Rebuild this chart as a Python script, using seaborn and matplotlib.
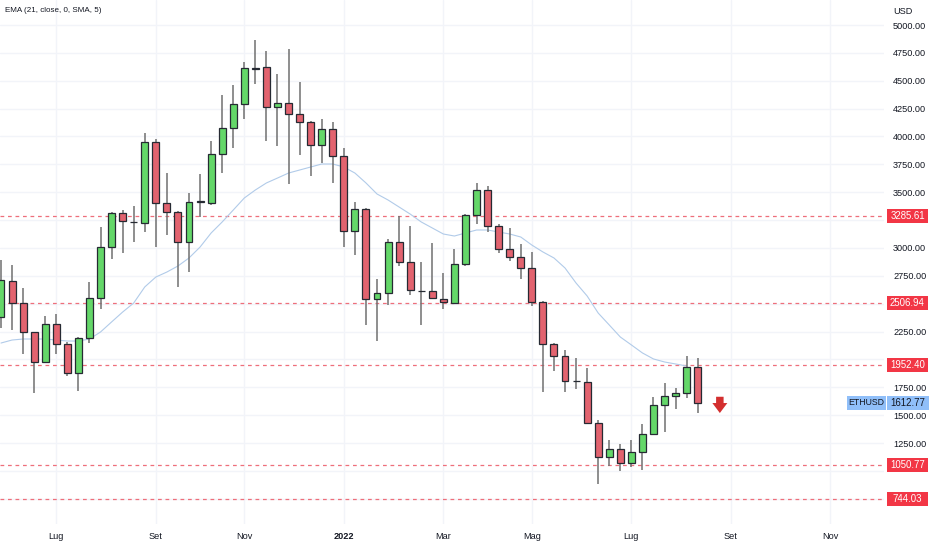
import numpy as np
import pandas as pd
import matplotlib
matplotlib.use("Agg")
import matplotlib.pyplot as plt
import matplotlib.dates as mdates
import matplotlib.transforms as mtrans
from matplotlib.patches import Rectangle
import seaborn as sns

# ---------------- data (weekly ETHUSD candles) ----------------
start_week = "2021-05-31"
n_weeks = 64
opens = [2380, 2703, 2506, 2246, 1977, 2318, 2138, 1878, 2192, 2551, 3008, 3313, 3233, 3224, 3950, 3403,
         3322, 3053, 3412, 3403, 3843, 4076, 4291, 4614, 4623, 4264, 4300, 4202, 4130, 3923, 4067, 3825,
         3152, 3349, 2542, 2596, 3053, 2874, 2614, 2614, 2542, 2506, 2856, 3296, 3520, 3197, 2990, 2919,
         2820, 2515, 2138, 2031, 1807, 1798, 1430, 1124, 1196, 1071, 1169, 1331, 1591, 1672, 1699, 1932]
highs = [2892, 2847, 2641, 2250, 2389, 2407, 2156, 2201, 2694, 3188, 3322, 3340, 3376, 4031, 3977, 3672,
         3331, 3493, 3663, 3959, 4372, 4462, 4668, 4865, 4767, 4560, 4785, 4489, 4139, 4157, 4130, 3897,
         3412, 3358, 2721, 3080, 3286, 3197, 2874, 3044, 2775, 2990, 3304, 3583, 3556, 3215, 3179, 3035,
         2964, 2524, 2147, 2084, 2013, 1923, 1457, 1277, 1241, 1277, 1421, 1663, 1789, 1744, 2031, 2013]
lows = [2282, 2264, 2049, 1699, 1968, 2049, 1851, 1717, 2147, 2452, 2901, 2955, 3053, 3143, 3008, 3116,
        2650, 2784, 3278, 3385, 3672, 3897, 4157, 4471, 3959, 3914, 3574, 3834, 3645, 3762, 3583, 3008,
        2937, 2309, 2165, 2488, 2838, 2578, 2309, 2542, 2452, 2500, 2838, 3215, 3143, 2955, 2883, 2721,
        2479, 1708, 1896, 1708, 1735, 1425, 882, 1044, 999, 1035, 1008, 1325, 1349, 1555, 1654, 1519]
closes = [2712, 2506, 2246, 1977, 2318, 2138, 1878, 2192, 2551, 3008, 3313, 3242, 3229, 3950, 3403, 3322,
          3053, 3412, 3416, 3843, 4076, 4291, 4614, 4609, 4264, 4300, 4202, 4130, 3923, 4067, 3825, 3152,
          3349, 2542, 2596, 3053, 2874, 2623, 2610, 2551, 2515, 2856, 3296, 3520, 3197, 2990, 2919, 2820,
          2515, 2138, 2031, 1807, 1804, 1430, 1124, 1196, 1071, 1169, 1331, 1591, 1672, 1699, 1932, 1612.77]
ema = [2147, 2174, 2183, 2183, 2183, 2174, 2165, 2165, 2183, 2246, 2336, 2425, 2506, 2650, 2739, 2784,
       2838, 2910, 3008, 3134, 3233, 3340, 3448, 3520, 3583, 3627, 3672, 3699, 3726, 3753, 3753, 3726,
       3672, 3583, 3484, 3430, 3367, 3304, 3233, 3179, 3125, 3107, 3134, 3161, 3161, 3143, 3125, 3098,
       3026, 2964, 2910, 2820, 2685, 2569, 2416, 2309, 2201, 2130, 2058, 2004, 1977, 1959, 1941, np.nan]

levels = [3285.61, 2506.94, 1952.40, 1050.77, 744.03]
last_price = 1612.77
symbol = "ETHUSD"
indicator_label = "EMA (21, close, 0, SMA, 5)"
currency = "USD"

tick_dates = ["2021-07-05", "2021-09-06", "2021-11-01", "2022-01-03", "2022-03-07",
              "2022-05-02", "2022-07-04", "2022-09-05", "2022-11-07"]
tick_labels = ["Lug", "Set", "Nov", "2022", "Mar", "Mag", "Lug", "Set", "Nov"]
price_ticks = list(range(750, 5001, 250))

arrow_date = "2022-08-29"
arrow_tip, arrow_top = 1519, 1665

# ---------------- style ----------------
sns.set_theme(style="white")
plt.rcParams["font.family"] = ["Liberation Sans", "DejaVu Sans"]

GREEN = "#64d769"
RED = "#e2636f"
EDGE = "#262a33"
WICK = "#707070"
LEVEL = "#ee6f7b"
TAG = "#f23645"
TXT = "#131722"
FS = 6.6

dates = pd.date_range(start_week, periods=n_weeks, freq="W-MON")
df = pd.DataFrame({"date": dates, "open": opens, "high": highs, "low": lows,
                   "close": closes, "ema": ema})
df["x"] = mdates.date2num(df["date"])

W, H = 932, 550
fig = plt.figure(figsize=(W / 100, H / 100), dpi=100)
ax_left, ax_w = 0, 884
ax_bot, ax_h = 26, 524
ax = fig.add_axes([ax_left / W, ax_bot / H, ax_w / W, ax_h / H])
ax.set_facecolor("white")

x0 = df["x"].iloc[0]
ax.set_xlim(x0 - 0.63, x0 + 558.9)
ax.set_ylim(523.5, 5224.3)

ppu = ax_h / (5224.3 - 523.5)  # pixels per price unit
half_h = 7 / ppu

# y ticks: hide labels that sit under a level tag
def covered(v):
    return any(abs(v - lv) < 1.3 * half_h for lv in levels)

ax.set_yticks(price_ticks)
ax.set_yticklabels(["" if covered(v) else f"{v:.2f}" for v in price_ticks])
tick_x = mdates.date2num(pd.to_datetime(tick_dates))
ax.set_xticks(tick_x)
ax.set_xticklabels(tick_labels)
ax.grid(True, color="#f2f4f9", lw=1.0, zorder=0)
for s in ax.spines.values():
    s.set_visible(False)
ax.yaxis.tick_right()
ax.tick_params(axis="y", length=0, pad=6.5, labelsize=FS, labelcolor=TXT)
ax.tick_params(axis="x", length=0, pad=6, labelsize=FS, labelcolor=TXT)
for lab in ax.get_xticklabels():
    if lab.get_text() == "2022":
        lab.set_fontweight("bold")

# level lines
for lv in levels:
    ax.axhline(lv, color=LEVEL, lw=0.9, ls=(0, (3, 3)), zorder=1)

# EMA line
sns.lineplot(data=df, x="x", y="ema", ax=ax, color="#b1cbe9", lw=0.8, zorder=2)
ax.set_xlabel("")
ax.set_ylabel("")

# candles
bw = 4.4
ax.vlines(df["x"], df["low"], df["high"], color=WICK, lw=1.1, zorder=3)
up = df["close"] >= df["open"]
body_lo = np.minimum(df["open"], df["close"])
body_h = np.maximum(np.abs(df["close"] - df["open"]), 6)
ax.bar(df["x"], body_h, bottom=body_lo, width=bw,
       color=np.where(up, GREEN, RED), edgecolor=EDGE, linewidth=0.9, zorder=4)

# down arrow
xa = mdates.date2num(pd.Timestamp(arrow_date))
ax.annotate("", xy=(xa, arrow_tip), xytext=(xa, arrow_top),
            arrowprops=dict(arrowstyle="simple,head_width=0.9,head_length=0.6,tail_width=0.45",
                            color="#d32f2f", lw=0, shrinkA=0, shrinkB=0), zorder=5)

# price tags
trans = mtrans.blended_transform_factory(ax.transAxes, ax.transData)
for lv in levels:
    r = Rectangle((887 / ax_w, lv - half_h), 41 / ax_w, 2 * half_h, transform=trans,
                  facecolor=TAG, edgecolor="none", clip_on=False, zorder=10)
    ax.add_patch(r)
    ax.text(907.5 / ax_w, lv, f"{lv:.2f}", transform=trans, ha="center", va="center",
            color="white", fontsize=FS + 0.3, clip_on=False, zorder=11)

r = Rectangle((847 / ax_w, last_price - half_h), 39 / ax_w, 2 * half_h, transform=trans,
              facecolor="#90bff9", edgecolor="none", clip_on=False, zorder=10)
ax.add_patch(r)
r = Rectangle((887 / ax_w, last_price - half_h), 42 / ax_w, 2 * half_h, transform=trans,
              facecolor="#90bff9", edgecolor="none", clip_on=False, zorder=10)
ax.add_patch(r)
ax.text(866.5 / ax_w, last_price, symbol, transform=trans, ha="center", va="center",
        color=TXT, fontsize=FS - 0.3, clip_on=False, zorder=11)
ax.text(908 / ax_w, last_price, f"{last_price:.2f}", transform=trans, ha="center", va="center",
        color=TXT, fontsize=FS + 0.3, clip_on=False, zorder=11)

# header texts
fig.text(5 / W, 1 - 10 / H, indicator_label, ha="left", va="center", fontsize=5.8, color=TXT)
fig.text(893 / W, 1 - 11 / H, currency, ha="left", va="center", fontsize=FS, color=TXT)

fig.savefig("out.png", dpi=100)
